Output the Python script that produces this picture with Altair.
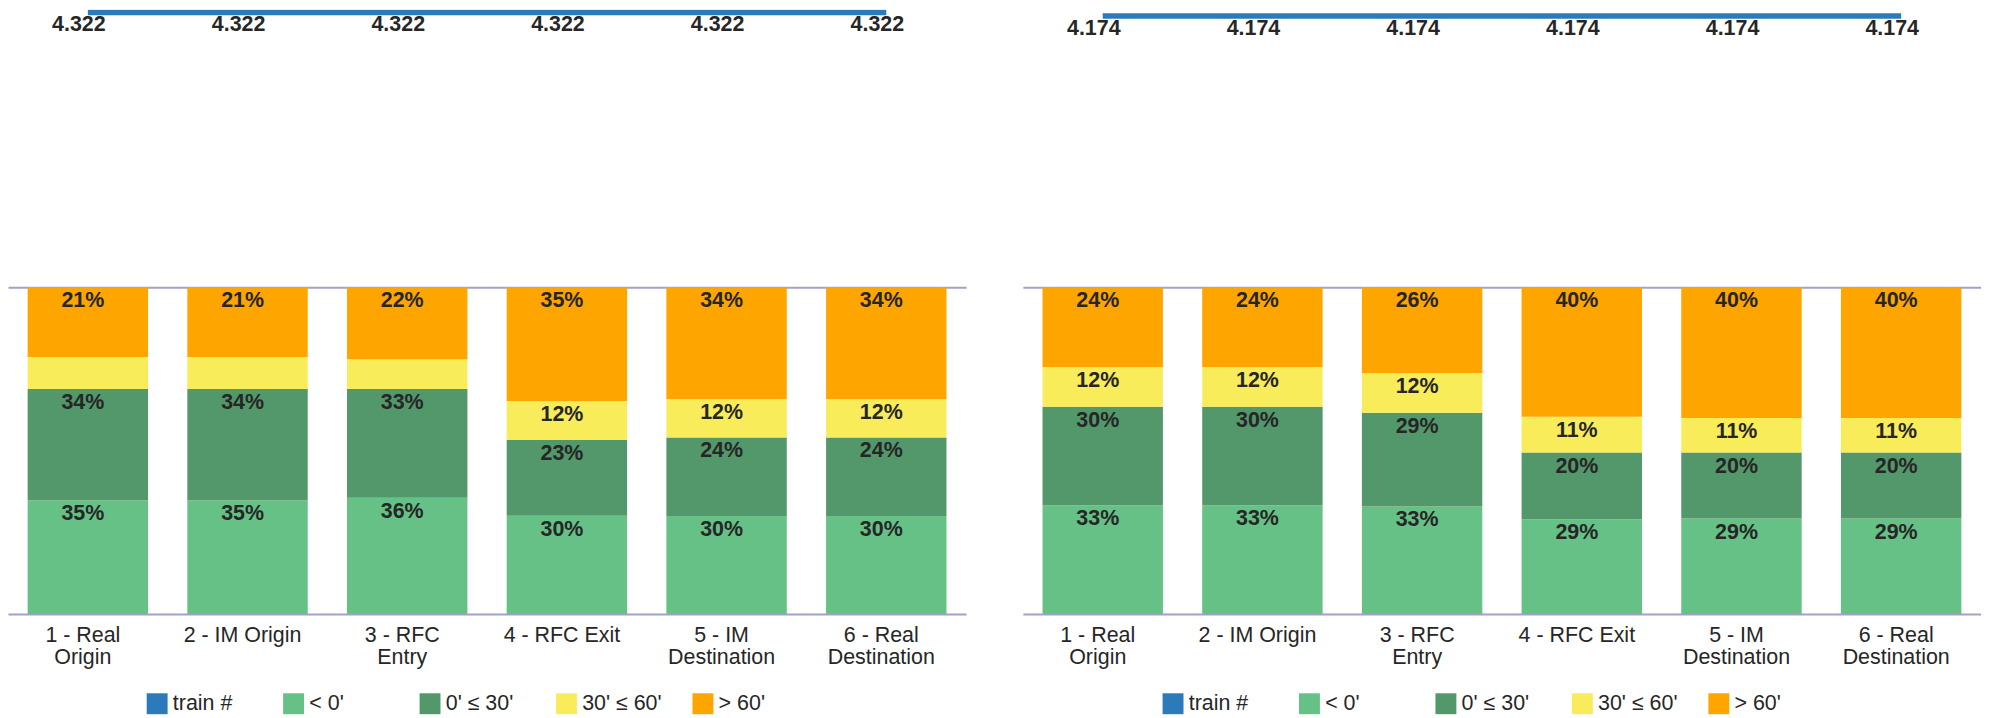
import altair as alt
import pandas as pd

# ---------------- data ----------------
stations = ["1 - Real Origin", "2 - IM Origin", "3 - RFC Entry",
            "4 - RFC Exit", "5 - IM Destination", "6 - Real Destination"]
station_lines = [["1 - Real", "Origin"], ["2 - IM Origin"], ["3 - RFC", "Entry"],
                 ["4 - RFC Exit"], ["5 - IM", "Destination"], ["6 - Real", "Destination"]]
classes = ["< 0'", "0' ≤ 30'", "30' ≤ 60'", "> 60'"]
class_colors = ["#66c186", "#53986b", "#f8ec5a", "#ffa500"]
train_label = "train #"
train_color = "#2b7bba"

# left panel
left_lt0 = [0.348, 0.348, 0.356, 0.301, 0.300, 0.300]
left_0_30 = [0.341, 0.341, 0.333, 0.232, 0.240, 0.240]
left_30_60 = [0.098, 0.098, 0.091, 0.119, 0.118, 0.118]
left_gt60 = [0.213, 0.213, 0.220, 0.348, 0.342, 0.342]
left_trains = [4322, 4322, 4322, 4322, 4322, 4322]
left_train_max = 4343.5

# right panel
right_lt0 = [0.333, 0.333, 0.329, 0.290, 0.292, 0.292]
right_0_30 = [0.301, 0.301, 0.287, 0.204, 0.202, 0.202]
right_30_60 = [0.122, 0.122, 0.122, 0.110, 0.106, 0.106]
right_gt60 = [0.244, 0.244, 0.262, 0.396, 0.400, 0.400]
right_trains = [4174, 4174, 4174, 4174, 4174, 4174]
right_train_max = 4219.1

# ---------------- style ----------------
FONT = "Liberation Sans"
TXT = "#262626"
AXIS_C = "#a2a2c6"
FS = 21.5
W, H = 962, 607
PCT_MAX = H / 328.0

label_expr = "{" + ", ".join(
    "'" + s + "': [" + ", ".join("'" + p + "'" for p in parts) + "]"
    for s, parts in zip(stations, station_lines)) + "}[datum.value]"


def panel(series, trains, train_max, legend_x):
    rows = []
    for i, s in enumerate(stations):
        for j, c in enumerate(classes):
            rows.append({"station": s, "cls": c, "idx": j, "pct": series[j][i]})
    df = pd.DataFrame(rows)
    tdf = pd.DataFrame({"station": stations, "trains": trains})

    x = alt.X("station:N", sort=stations,
              scale=alt.Scale(paddingInner=0.246, paddingOuter=0.123),
              axis=alt.Axis(title=None, labelAngle=0, labelExpr=label_expr,
                            labelFont=FONT, labelFontSize=FS, labelColor=TXT,
                            labelLineHeight=22, labelPadding=11, labelBaseline="top",
                            labelLimit=400, labelOverlap=False, labelOffset=-5,
                            ticks=False, tickSize=0,
                            domainColor=AXIS_C, domainWidth=2))

    base = alt.Chart(df)
    bars = base.mark_bar(strokeWidth=0).encode(
        x=x,
        y=alt.Y("pct:Q", stack="zero",
                scale=alt.Scale(domain=[0, PCT_MAX], nice=False, zero=True),
                axis=alt.Axis(values=[1], grid=True, gridColor=AXIS_C, gridWidth=2,
                              labels=False, ticks=False, domain=False, title=None)),
        color=alt.Color("cls:N",
                        scale=alt.Scale(domain=[train_label] + classes,
                                        range=[train_color] + class_colors),
                        legend=alt.Legend(orient="none", legendX=legend_x, legendY=686,
                                          direction="horizontal", columns=5,
                                          gridAlign="all", title=None,
                                          symbolType="square", symbolSize=441,
                                          symbolStrokeWidth=0, symbolOffset=0,
                                          labelFont=FONT, labelFontSize=FS,
                                          labelColor=TXT, labelOffset=5,
                                          columnPadding=30, padding=0)),
        order=alt.Order("idx:Q"),
    )

    seg_text = base.transform_window(
        cum="sum(pct)", groupby=["station"], sort=[alt.SortField("idx")],
        frame=[None, 0]
    ).transform_filter("datum.pct >= 0.1").transform_calculate(
        lab="format(datum.pct, '.0%')"
    ).mark_text(font=FONT, fontSize=FS, fontWeight="bold", color=TXT,
                baseline="alphabetic", dy=20, dx=-5).encode(
        x=alt.X("station:N", sort=stations),
        y=alt.Y("cum:Q"),
        text="lab:N",
    )

    tbase = alt.Chart(tdf).transform_calculate(
        lab="replace(format(datum.trains, ','), ',', '.')")
    ty = alt.Y("trains:Q", scale=alt.Scale(domain=[0, train_max], nice=False, zero=True),
               axis=None)
    line = tbase.mark_line(color=train_color, strokeWidth=5.5, strokeJoin="round",
                           clip=True).encode(
        x=alt.X("station:N", sort=stations), y=ty)
    line_text = tbase.mark_text(font=FONT, fontSize=FS, fontWeight="bold", color=TXT,
                                baseline="alphabetic", dy=18.8, dx=-9).encode(
        x=alt.X("station:N", sort=stations), y=ty, text="lab:N")

    primary = alt.layer(bars, seg_text)
    secondary = alt.layer(line, line_text)
    return alt.layer(primary, secondary).resolve_scale(y="independent").properties(
        width=W, height=H)


left = panel([left_lt0, left_0_30, left_30_60, left_gt60], left_trains, left_train_max, 139)
right = panel([right_lt0, right_0_30, right_30_60, right_gt60], right_trains, right_train_max, 140)

chart = alt.hconcat(left, right, spacing=57).resolve_scale(
    color="independent").resolve_legend(color="independent").properties(
    padding=0).configure_view(stroke=None)

chart.save("out.html", embed_options={"renderer": "svg", "actions": False})
